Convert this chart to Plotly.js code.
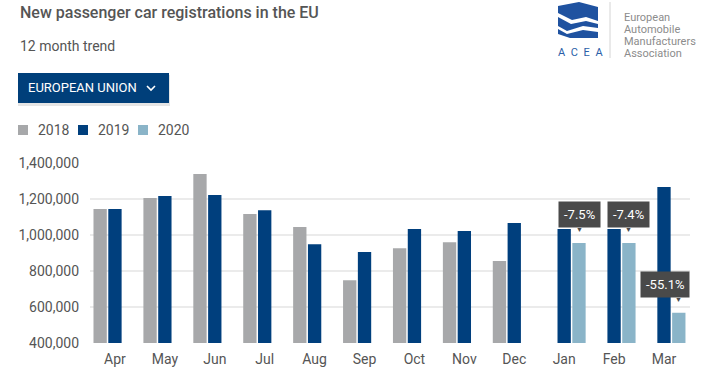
<!DOCTYPE html>
<html>
<head>
<meta charset="utf-8">
<script src="https://cdn.plot.ly/plotly-3.0.1.min.js"></script>
<style>
  html, body { margin: 0; padding: 0; background: #ffffff; }
  #chart { width: 713px; height: 375px; }
</style>
</head>
<body>
<div id="chart"></div>
<script>
// ---- data ----
const months = ['Apr','May','Jun','Jul','Aug','Sep','Oct','Nov','Dec','Jan','Feb','Mar'];
const seriesNames = ['2018','2019','2020'];
const y2018 = [1144000,1205000,1339000,1116000,1044000,749000,927000,960000,855000,null,null,null];
const y2019 = [1144000,1216000,1222000,1138000,949000,905000,1033000,1022000,1066000,1033000,1033000,1266000];
const y2020 = [null,null,null,null,null,null,null,null,null,955000,956000,568000];
const changeMonths = ['Jan','Feb','Mar'];
const changeLabels = ['-7.5%','-7.4%','-55.1%'];
const yTickVals = [400000,600000,800000,1000000,1200000,1400000];

// ---- geometry helpers (decoration placement, pixels -> paper) ----
const W = 713, H = 375;
const L = 90, R = 690, T = 163, B = 343;
const px = x => (x - L) / (R - L);
const py = y => (B - y) / (B - T);
const pathOf = pts => 'M' + pts.map(p => px(p[0]) + ',' + py(p[1])).join('L') + 'Z';

const colors = ['#a7a8aa', '#003f7d', '#8ab4c8'];
const FONT = 'Roboto, "Open Sans", Arial, sans-serif';
const TXT = '#555555';

const seriesValues = [y2018, y2019, y2020];
const traces = seriesNames.map((n, i) => ({
  type:'bar', name:n, x:months, y:seriesValues[i], marker:{color:colors[i]}
}));

const slot = 50 * (1 - 0.11) / 3;
const annotations = [];
const shapes = [];

changeMonths.forEach((m, i) => {
  const v = y2020[months.indexOf(m)];
  const boxShift = (m === 'Mar') ? 1 : slot;
  annotations.push({
    x: m, y: v, xref:'x', yref:'y', showarrow:false,
    text: changeLabels[i], xanchor:'center', yanchor:'bottom',
    xshift: boxShift, yshift: 15,
    font:{family:FONT, size:13, color:'#ffffff'},
    bgcolor:'#4a4a4a', borderpad:5
  });
  annotations.push({
    x: m, y: v, xref:'x', yref:'y', showarrow:false,
    text:'▼', xanchor:'center', yanchor:'bottom',
    xshift: slot, yshift: 7,
    font:{family:FONT, size:7, color:'#4a4a4a'}
  });
});

// legend (drawn as decoration, one entry per series)
seriesNames.forEach((n, i) => {
  const x0 = 18 + i * 60;
  shapes.push({type:'rect', xref:'paper', yref:'paper', x0:px(x0), x1:px(x0 + 10), y0:py(135), y1:py(125),
               fillcolor:colors[i], line:{width:0}});
  annotations.push({xref:'paper', yref:'paper', x:px(x0 + 18), y:py(130), xanchor:'left', yanchor:'middle',
                    showarrow:false, text:n, font:{family:FONT, size:14, color:TXT}});
});

// header texts
annotations.push(
  {xref:'paper', yref:'paper', x:px(18), y:py(12), xanchor:'left', yanchor:'middle', showarrow:false,
   text:'New passenger car registrations in the EU', font:{family:FONT, size:16, color:TXT, weight:500}},
  {xref:'paper', yref:'paper', x:px(18), y:py(46), xanchor:'left', yanchor:'middle', showarrow:false,
   text:'12 month trend', font:{family:FONT, size:14, color:TXT}},
  {xref:'paper', yref:'paper', x:px(26), y:py(88), xanchor:'left', yanchor:'middle', showarrow:false,
   text:'EUROPEAN UNION', font:{family:FONT, size:13, color:'#ffffff'}},
  {xref:'paper', yref:'paper', x:px(556), y:py(52), xanchor:'left', yanchor:'middle', showarrow:false,
   text:'A\u2002C\u2002E\u2002A', font:{family:FONT, size:11, color:'#2a5ea8'}},
  {xref:'paper', yref:'paper', x:px(622), y:py(17), xanchor:'left', yanchor:'middle', showarrow:false,
   text:'European', font:{family:FONT, size:11, color:'#8c8c8c'}},
  {xref:'paper', yref:'paper', x:px(622), y:py(29.5), xanchor:'left', yanchor:'middle', showarrow:false,
   text:'Automobile', font:{family:FONT, size:11, color:'#8c8c8c'}},
  {xref:'paper', yref:'paper', x:px(622), y:py(42), xanchor:'left', yanchor:'middle', showarrow:false,
   text:'Manufacturers', font:{family:FONT, size:11, color:'#8c8c8c'}},
  {xref:'paper', yref:'paper', x:px(622), y:py(54), xanchor:'left', yanchor:'middle', showarrow:false,
   text:'Association', font:{family:FONT, size:11, color:'#8c8c8c'}}
);

shapes.push(
  {type:'rect', xref:'paper', yref:'paper', x0:px(18), x1:px(170), y0:py(75), y1:py(106),
   fillcolor:'rgba(0,0,0,0.10)', line:{width:0}, layer:'below'},
  {type:'rect', xref:'paper', yref:'paper', x0:px(18), x1:px(169), y0:py(73), y1:py(103),
   fillcolor:'#003f7a', line:{width:0}},
  {type:'path', xref:'paper', yref:'paper',
   path:'M' + px(147) + ',' + py(86) + 'L' + px(151) + ',' + py(90) + 'L' + px(155) + ',' + py(86),
   line:{color:'#ffffff', width:1.6}},
  {type:'line', xref:'paper', yref:'paper', x0:px(610), x1:px(610), y0:py(2), y1:py(58),
   line:{color:'#d4d4d4', width:1}},
  {type:'path', xref:'paper', yref:'paper', fillcolor:'#1f52a0', line:{width:0},
   path:pathOf([[558,6],[579,2],[598,7],[598,21],[586,17],[572,20],[558,13]])},
  {type:'path', xref:'paper', yref:'paper', fillcolor:'#1f52a0', line:{width:0},
   path:pathOf([[558,17],[571,24],[586,21],[598,24],[598,28],[583,26],[567,31],[558,26]])},
  {type:'path', xref:'paper', yref:'paper', fillcolor:'#1f52a0', line:{width:0},
   path:pathOf([[558,29],[567,34],[583,30],[598,32],[598,38],[570,38],[558,34]])}
);

const layout = {
  width: W, height: H,
  margin: {l:L, r:W-R, t:T, b:H-B, pad:0, autoexpand:false},
  paper_bgcolor:'#ffffff', plot_bgcolor:'#ffffff',
  font:{family:FONT, color:TXT, size:14},
  barmode:'group', bargap:0.11, bargroupgap:0.1,
  showlegend:false,
  xaxis:{type:'category', showgrid:false, zeroline:false, showline:false, ticks:'', automargin:false,
         tickfont:{family:FONT, size:14, color:TXT}, ticklabelstandoff:6, fixedrange:true},
  yaxis:{range:[400000,1400000], tickvals:yTickVals, tickformat:',d', showgrid:true, automargin:false,
         gridcolor:'#ebebeb', gridwidth:2, zeroline:false, showline:false, ticks:'',
         tickfont:{family:FONT, size:14, color:TXT}, ticklabelstandoff:10, fixedrange:true},
  hovermode:false,
  annotations: annotations,
  shapes: shapes
};

Plotly.newPlot('chart', traces, layout, {displayModeBar:false, staticPlot:true});
</script>
</body>
</html>
